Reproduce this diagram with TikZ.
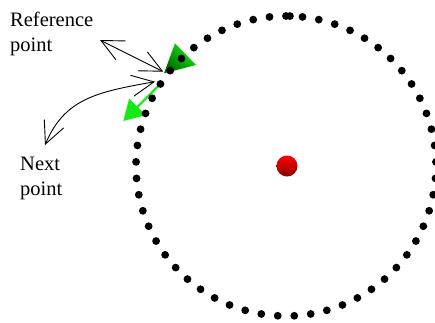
\documentclass[tikz,border=0pt]{standalone}
\usepackage{fontspec}
\setmainfont{Liberation Serif}
\usetikzlibrary{arrows.meta}
\definecolor{brightgreen}{RGB}{20,235,20}
\definecolor{darkgreen}{RGB}{0,105,0}
\begin{document}
\begin{tikzpicture}[x=1pt,y=-1pt,
  dot/.style={circle,fill=black,inner sep=0pt,minimum size=7.8pt},
  txt/.style={font=\fontsize{20.5}{24.3}\selectfont,align=left,inner sep=0pt,anchor=base west},
  pointer/.style={line width=0.9pt,{Straight Barb[length=22pt,width=21pt]}-{Straight Barb[length=22pt,width=21pt]}},
  greenarrow/.style={brightgreen,line width=2pt,-{Triangle[length=20pt,width=23pt]}}]
\useasboundingbox (0,0) rectangle (435,322);
% dot positions on the ring
\foreach \i in {0,...,56}{
  \pgfmathsetmacro{\ang}{90+\i*6.315789}
  \coordinate (p\i) at ({286+150*cos(\ang)},{166-150*sin(\ang)});
}
% green cone at the reference point
\shade[top color=brightgreen,bottom color=darkgreen,shading angle=-45]
  (175,43.3) -- (196,65) -- (164,73.3) -- cycle;
% green arrow from the next point
\coordinate (gtip) at (123.3,121);
\draw[greenarrow] (p9) -- (gtip);
% red centre ball
\shade[top color=red,bottom color=red!55!black] (287,166) circle (10.5);
% dots
\foreach \i in {0,...,56}{
  \node[dot] (d\i) at (p\i) {};
}
\node[dot] (dx) at ({286+150*cos(88.5)},{166-150*sin(88.5)}) {};
% labels (anchored at the baseline of the last line)
\node[txt] (ref) at (10,51) {Reference\\point};
\node[txt] (next) at (20,195) {Next\\point};
% black pointers
\coordinate (t1a) at (100,40);
\coordinate (t1b) at (163.3,71.7);
\draw[pointer] (t1a) -- (t1b);
\coordinate (t2a) at (45,145);
\coordinate (t2b) at (155,81.7);
\draw[pointer] (t2a) .. controls (64.5,99) and (96,92) .. (t2b);
\end{tikzpicture}
\end{document}
